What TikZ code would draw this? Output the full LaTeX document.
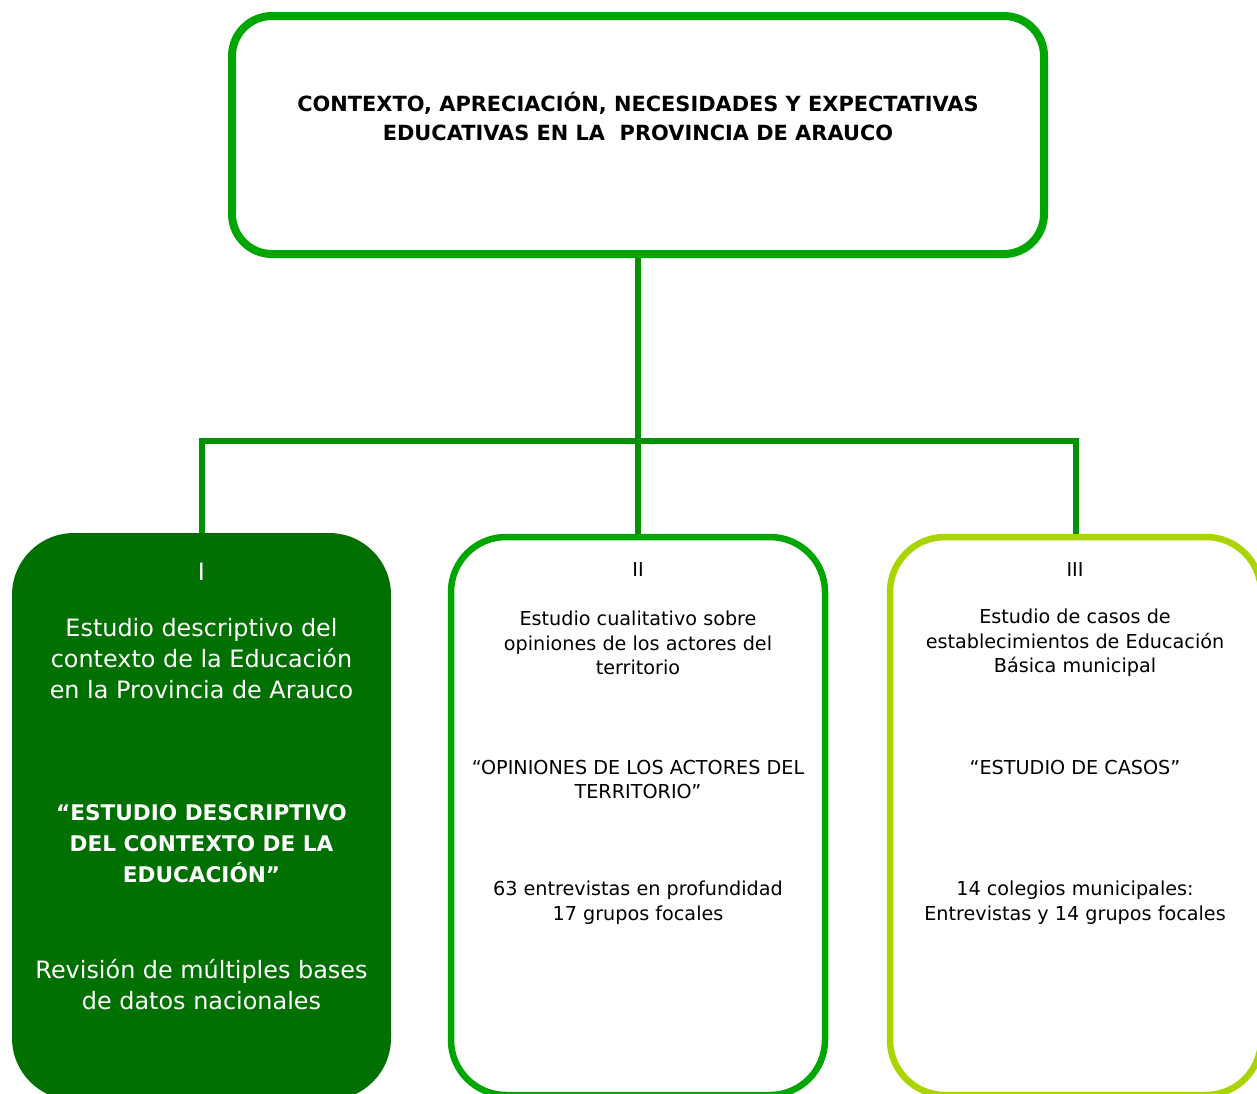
\documentclass[tikz,border=0pt]{standalone}
\usepackage{fontspec}
\setmainfont{DejaVu Sans}
\usepackage{xcolor}
\usetikzlibrary{positioning}

\definecolor{topgreen}{RGB}{0,166,0}
\definecolor{linkgreen}{RGB}{0,146,0}
\definecolor{darkgreen}{RGB}{0,112,0}
\definecolor{limegreen}{RGB}{170,212,0}

\tikzset{
    frame/.style={draw, rounded corners=55pt, line width=6.5pt, inner sep=0pt},
    link/.style={draw=linkgreen, line width=6pt},
    txt/.style={align=center, inner sep=0pt, font=\fontsize{19.2}{24.5}\selectfont},
    bigtxt/.style={align=center, inner sep=0pt, text=white, font=\fontsize{23.9}{31}\selectfont}
}

\begin{document}
\begin{tikzpicture}[x=1pt,y=-1pt]
    \useasboundingbox (0,0) rectangle (1257,1093);
    % boxes
    \node(top)[frame, draw=topgreen, rounded corners=40pt, line width=8pt,
        minimum width=812pt, minimum height=238pt] at (638,135) {};
    \node(one)[fill=darkgreen, rounded corners=62pt, inner sep=0pt,
        minimum width=379pt, minimum height=567pt] at (201.5,816.5) {};
    \node(two)[frame, draw=topgreen, minimum width=374pt, minimum height=558pt] at (638,816) {};
    \node(three)[frame, draw=limegreen, minimum width=371pt, minimum height=558pt] at (1075.5,816) {};
    % connectors
    \coordinate(bus) at (638,441);
    \draw[link] (top.south) -- (two.north);
    \draw[link] (one.north) |- (bus) -| (three.north);
    % title
    \node(title)[align=center, inner sep=0pt, font=\fontsize{20.9}{29}\selectfont\bfseries] at (638,116.5)
        {CONTEXTO, APRECIACIÓN, NECESIDADES Y EXPECTATIVAS\\EDUCATIVAS EN LA\ \ PROVINCIA DE ARAUCO};
    % I
    \node(numI)[bigtxt] at (201.5,572) {I};
    \node(descI)[bigtxt] at (201.5,659) {Estudio descriptivo del\\contexto de la Educación\\en la Provincia de Arauco};
    \node(nameI)[bigtxt, font=\fontsize{21.6}{31}\selectfont\bfseries] at (201.5,844)
        {“ESTUDIO DESCRIPTIVO\\DEL CONTEXTO DE LA\\EDUCACIÓN”};
    \node(dataI)[bigtxt] at (201.5,984.5) {Revisión de múltiples bases\\de datos nacionales};
    % II
    \node(numII)[txt] at (638,569) {II};
    \node(descII)[txt] at (638,643) {Estudio cualitativo sobre\\opiniones de los actores del\\territorio};
    \node(nameII)[txt] at (638,779.5) {“OPINIONES DE LOS ACTORES DEL\\TERRITORIO”};
    \node(dataII)[txt] at (638,902.5) {63 entrevistas en profundidad\\17 grupos focales};
    % III
    \node(numIII)[txt] at (1075,569) {III};
    \node(descIII)[txt] at (1075,643) {Estudio de casos de\\establecimientos de Educación\\Básica municipal};
    \node(nameIII)[txt] at (1075,767) {“ESTUDIO DE CASOS”};
    \node(dataIII)[txt] at (1075,902.5) {14 colegios municipales:\\Entrevistas y 14 grupos focales};
\end{tikzpicture}
\end{document}
